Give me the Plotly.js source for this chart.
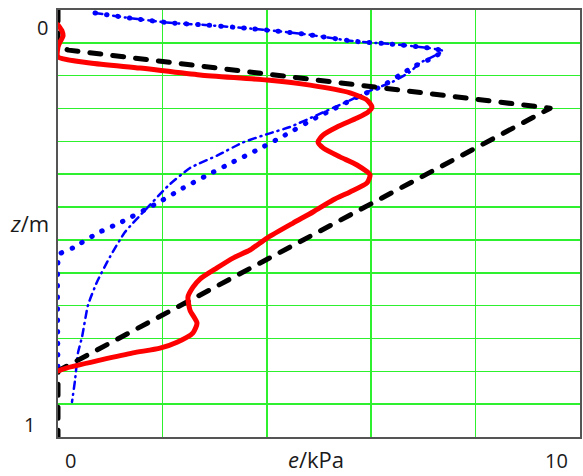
<!DOCTYPE html>
<html>
<head>
<meta charset="utf-8">
<script src="https://cdn.plot.ly/plotly-3.0.1.min.js"></script>
<style>html,body{margin:0;padding:0;background:#fff}#chart{width:583px;height:476px}</style>
</head>
<body>
<div id="chart"></div>
<script>
// Red solid curve
const redE = [0,0.077,0.096,0.038,0,0,0.613,1.571,2.720,4.004,4.828,5.594,5.920,6.015,5.939,5.728,5.345,5.077,4.981,5.077,5.402,5.728,5.977,5.920,5.594,5.268,4.885,4.502,4.004,3.678,3.352,3.046,2.720,2.586,2.490,2.529,2.663,2.586,2.280,1.954,1.437,0.805,0.172,0];
const redZ = [0.035,0.049,0.061,0.075,0.087,0.110,0.124,0.136,0.152,0.164,0.176,0.194,0.211,0.227,0.239,0.253,0.274,0.293,0.309,0.323,0.344,0.363,0.386,0.405,0.426,0.445,0.473,0.499,0.534,0.562,0.581,0.604,0.630,0.649,0.672,0.703,0.733,0.756,0.778,0.792,0.803,0.820,0.838,0.845];
// Black dashed curve
const blackE = [0,0,0.2,9.43,0,0];
const blackZ = [0,0.085,0.094,0.230,0.845,1];
// Blue round-dotted curve
const blueDotE = [0.709,1.379,2.146,2.816,3.736,4.693,5.651,6.398,7.107,7.375,7.126,6.839,6.552,6.207,5.728,5.249,4.962,4.291,3.812,3.352,2.874,2.395,1.935,1.226,0.766,0.287,0.038,0,0];
const blueDotZ = [0.007,0.019,0.030,0.035,0.044,0.056,0.073,0.080,0.089,0.096,0.115,0.131,0.152,0.178,0.204,0.234,0.251,0.297,0.328,0.356,0.386,0.417,0.450,0.496,0.522,0.557,0.571,0.590,0.843];
// Blue dash-dot curve
const blueDashE = [0.709,1.379,2.146,2.816,3.736,4.693,5.651,6.398,7.107,7.375,6.935,6.743,6.398,6.015,5.690,5.402,4.962,4.444,4.023,3.525,3.065,2.529,2.107,1.705,1.284,0.996,0.747,0.575,0.460,0.383,0.326,0.268];
const blueDashZ = [0.007,0.019,0.030,0.035,0.044,0.056,0.073,0.080,0.089,0.096,0.124,0.145,0.169,0.187,0.206,0.222,0.246,0.274,0.290,0.311,0.340,0.370,0.412,0.464,0.520,0.578,0.637,0.691,0.766,0.803,0.867,0.918];

const traces = [
  {x: blueDashE, y: blueDashZ, mode:'lines', line:{color:'#0000ff', width:2.5, dash:'7px,5px,1px,5px', shape:'spline', smoothing:0.5}},
  {x: blueDotE, y: blueDotZ, mode:'lines', line:{color:'#0000ff', width:5, dash:'0.5px,11px', shape:'spline', smoothing:0.5}},
  {x: blackE, y: blackZ, mode:'lines', line:{color:'#000000', width:5, dash:'11px,12px'}},
  {x: redE, y: redZ, mode:'lines', line:{color:'#ff0000', width:5, shape:'spline', smoothing:0.6}}
];

const fnt = {family:'"Open Sans", "Noto Sans", sans-serif', size:20, color:'#1a1a1a'};
const tfnt = {family:'"Open Sans", "Noto Sans", sans-serif', size:22, color:'#1a1a1a'};
const layout = {
  width:583, height:476,
  margin:{l:58, r:3, t:10, b:39},
  showlegend:false,
  paper_bgcolor:'#fff', plot_bgcolor:'#fff',
  xaxis:{range:[0,10], tick0:0, dtick:2, showgrid:true, gridcolor:'#2ff02f', gridwidth:1.5,
         zeroline:false, showticklabels:false, ticks:'', showline:true, linecolor:'#555', linewidth:2, mirror:true},
  yaxis:{range:[1,0], tick0:0, dtick:1/13, showgrid:true, gridcolor:'#2ff02f', gridwidth:1.5,
         zeroline:false, showticklabels:false, ticks:'', showline:true, linecolor:'#555', linewidth:2, mirror:true},
  annotations:[
    {text:'0', xref:'paper', yref:'paper', x:-0.03, y:0.96, showarrow:false, font:fnt, xanchor:'center', yanchor:'middle'},
    {text:'1', xref:'paper', yref:'paper', x:-0.054, y:0.03, showarrow:false, font:fnt, xanchor:'center', yanchor:'middle'},
    {text:'0', xref:'paper', yref:'paper', x:0.023, y:-0.055, showarrow:false, font:fnt, xanchor:'center', yanchor:'middle'},
    {text:'10', xref:'paper', yref:'paper', x:0.955, y:-0.055, showarrow:false, font:fnt, xanchor:'center', yanchor:'middle'},
    {text:'<i>e</i>/kPa', xref:'paper', yref:'paper', x:0.494, y:-0.052, showarrow:false, font:tfnt, xanchor:'center', yanchor:'middle'},
    {text:'<i>z</i>/m', xref:'paper', yref:'paper', x:-0.055, y:0.502, showarrow:false, font:tfnt, xanchor:'center', yanchor:'middle'}
  ]
};
Plotly.newPlot('chart', traces, layout, {displayModeBar:false, staticPlot:true}).then(function(gd){
  gd.querySelectorAll('.scatterlayer .trace path.js-line').forEach(function(p){
    p.style.strokeLinecap = 'round';
    p.style.strokeLinejoin = 'round';
  });
});
</script>
</body>
</html>
